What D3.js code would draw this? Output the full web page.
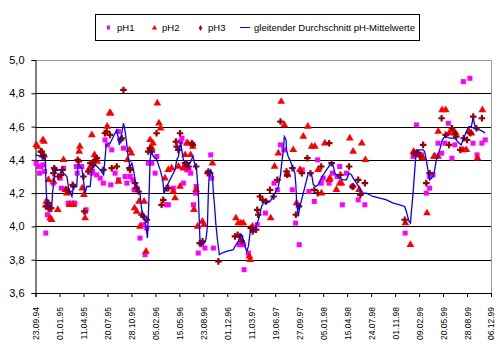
<!DOCTYPE html>
<html><head><meta charset="utf-8">
<script src="https://cdn.jsdelivr.net/npm/d3@7"></script>
<style>body{margin:0;background:#fff}svg{display:block}text{font-family:"Liberation Sans",Arial,sans-serif}</style>
</head><body><svg id="c" width="504" height="350"></svg>
<script>
// day offsets from 23.09.1994, pH values
const startDate = "1994-09-23";
const xTickDays = [0,100,200,300,400,500,600,700,800,900,1000,1100,1200,1300,1400,1500,1600,1700,1800,1900];
const yTicks = [3.6,3.8,4.0,4.2,4.4,4.6,4.8,5.0];
const seriesNames = ["pH1","pH2","pH3","gleitender Durchschnitt pH-Mittelwerte"];

const pH1 = [[3,4.38],[12,4.36],[17,4.32],[22,4.36],[31,4.37],[38,4.33],[43,3.96],[50,4.07],[60,4.10],[74,4.26],[103,4.29],[108,4.23],[117,4.35],[136,4.14],[154,4.14],[164,4.14],[170,4.36],[174,4.32],[188,4.36],[193,4.36],[208,4.09],[211,4.10],[235,4.32],[238,4.33],[255,4.31],[270,4.29],[283,4.26],[290,4.52],[300,4.49],[314,4.25],[318,4.46],[332,4.32],[346,4.57],[346,4.28],[367,4.47],[374,4.30],[381,4.26],[395,4.30],[406,4.28],[411,4.22],[422,4.23],[436,3.93],[447,4.01],[457,3.83],[464,3.99],[471,4.38],[485,4.38],[499,4.32],[506,4.42],[547,4.13],[554,4.13],[575,4.23],[606,4.51],[611,4.53],[617,4.26],[631,4.34],[640,4.34],[647,4.32],[659,4.13],[668,4.20],[670,4.24],[679,3.84],[693,3.89],[707,3.87],[731,4.43],[735,4.29],[742,3.87],[850,3.89],[868,3.89],[870,3.74],[888,3.84],[915,3.99],[925,4.01],[959,4.08],[995,4.26],[1009,4.22],[1022,4.49],[1036,4.46],[1050,4.32],[1071,4.22],[1085,4.02],[1100,3.89],[1113,4.34],[1141,4.21],[1163,4.15],[1177,4.40],[1192,4.26],[1200,4.29],[1225,4.26],[1239,4.32],[1258,4.30],[1269,4.36],[1280,4.13],[1297,4.32],[1322,4.24],[1346,4.16],[1374,4.13],[1542,3.96],[1575,4.42],[1589,4.61],[1610,4.43],[1630,4.20],[1644,4.23],[1644,4.30],[1658,4.31],[1679,4.50],[1694,4.44],[1708,4.50],[1722,4.62],[1737,4.41],[1749,4.49],[1785,4.87],[1786,4.46],[1812,4.89],[1825,4.50],[1842,4.43],[1862,4.50],[1876,4.52]];

const pH2 = [[3,4.49],[8,4.48],[31,4.52],[35,4.51],[45,4.15],[52,4.14],[54,4.28],[61,4.05],[67,4.04],[75,4.27],[93,4.10],[117,4.40],[125,4.22],[131,4.20],[142,4.13],[158,4.13],[182,4.45],[185,4.48],[195,4.23],[202,4.19],[207,4.05],[225,4.35],[235,4.55],[240,4.38],[246,4.43],[257,4.39],[299,4.60],[309,4.68],[313,4.68],[346,4.27],[384,4.40],[392,4.46],[400,4.44],[413,4.11],[422,4.09],[432,4.15],[436,4.00],[453,4.15],[461,3.85],[478,4.52],[485,4.47],[490,4.50],[508,4.74],[515,4.62],[522,4.59],[540,4.29],[554,4.34],[568,4.35],[575,4.21],[582,4.17],[596,4.36],[603,4.24],[617,4.35],[620,4.36],[624,4.43],[631,4.50],[635,4.50],[647,4.43],[656,4.48],[661,4.10],[670,4.22],[676,4.00],[696,4.03],[703,4.01],[738,4.38],[836,4.05],[846,4.02],[857,4.02],[867,4.02],[892,3.82],[895,3.80],[905,4.00],[981,4.05],[997,4.36],[1013,4.44],[1025,4.75],[1038,4.61],[1052,4.31],[1075,4.46],[1089,4.14],[1103,4.34],[1117,4.54],[1136,4.60],[1152,4.48],[1165,4.48],[1179,4.34],[1193,4.20],[1207,4.50],[1225,4.28],[1228,4.29],[1255,4.22],[1269,4.26],[1276,4.26],[1311,4.53],[1325,4.45],[1350,4.22],[1361,4.50],[1376,4.40],[1543,4.02],[1564,3.89],[1577,4.45],[1582,4.44],[1592,4.43],[1603,4.43],[1617,4.41],[1633,4.08],[1662,4.42],[1666,4.42],[1679,4.42],[1680,4.57],[1696,4.70],[1711,4.70],[1725,4.56],[1739,4.58],[1752,4.56],[1783,4.46],[1797,4.46],[1808,4.57],[1818,4.56],[1844,4.41],[1864,4.70]];

const pH3 = [[22,4.45],[26,4.45],[29,4.42],[33,4.43],[36,4.42],[43,4.12],[47,4.12],[54,4.14],[56,4.11],[65,4.11],[75,4.32],[78,4.35],[82,4.34],[95,4.30],[106,4.31],[113,4.34],[130,4.22],[138,4.21],[155,4.25],[158,4.24],[176,4.40],[180,4.39],[200,4.30],[204,4.09],[220,4.33],[229,4.38],[237,4.37],[249,4.40],[256,4.41],[283,4.34],[290,4.56],[297,4.57],[311,4.55],[318,4.35],[339,4.36],[355,4.52],[360,4.53],[367,4.82],[392,4.35],[395,4.34],[415,4.26],[422,4.23],[430,4.21],[443,4.07],[450,4.06],[464,4.04],[470,4.45],[477,4.47],[485,4.45],[505,4.56],[526,4.13],[533,4.16],[547,4.23],[554,4.23],[586,4.51],[589,4.48],[596,4.46],[603,4.56],[624,4.38],[631,4.38],[638,4.36],[652,4.50],[656,4.49],[670,4.36],[685,3.90],[690,3.90],[697,3.91],[718,4.32],[721,4.33],[728,4.32],[763,3.79],[832,3.94],[843,3.95],[853,3.94],[860,3.91],[898,3.99],[906,3.97],[920,3.98],[925,4.10],[929,4.07],[936,4.18],[947,4.16],[962,4.15],[978,4.22],[993,4.18],[1009,4.28],[1022,4.63],[1047,4.33],[1050,4.31],[1072,4.35],[1086,4.07],[1099,4.12],[1111,4.32],[1134,4.41],[1147,4.32],[1163,4.22],[1177,4.20],[1192,4.36],[1225,4.50],[1235,4.38],[1272,4.31],[1308,4.36],[1322,4.24],[1325,4.24],[1346,4.28],[1355,4.19],[1374,4.26],[1540,4.04],[1580,4.44],[1596,4.44],[1603,4.42],[1617,4.49],[1630,4.26],[1644,4.32],[1694,4.65],[1711,4.55],[1725,4.49],[1737,4.59],[1750,4.56],[1755,4.54],[1772,4.46],[1786,4.53],[1800,4.52],[1814,4.56],[1826,4.66],[1839,4.59],[1862,4.65]];

const avgLine = [[0,4.43],[28,4.42],[41,4.41],[45,4.20],[50,4.12],[68,4.12],[71,4.20],[82,4.34],[103,4.34],[117,4.32],[131,4.30],[138,4.23],[152,4.18],[159,4.24],[172,4.24],[177,4.37],[193,4.35],[207,4.20],[214,4.24],[228,4.24],[235,4.34],[249,4.37],[270,4.34],[284,4.31],[295,4.49],[311,4.50],[325,4.54],[339,4.58],[350,4.49],[360,4.56],[367,4.62],[374,4.57],[381,4.49],[388,4.40],[395,4.36],[402,4.38],[409,4.34],[415,4.28],[422,4.24],[436,4.20],[443,4.10],[453,4.06],[461,4.00],[467,3.93],[474,4.20],[478,4.40],[482,4.45],[492,4.42],[506,4.40],[520,4.34],[531,4.28],[536,4.20],[547,4.24],[561,4.28],[568,4.30],[582,4.34],[589,4.40],[596,4.42],[606,4.51],[610,4.46],[617,4.40],[624,4.38],[631,4.36],[645,4.38],[656,4.42],[661,4.40],[666,4.36],[672,4.34],[679,4.20],[684,4.00],[686,3.92],[693,3.89],[703,3.90],[711,3.92],[717,4.00],[721,4.20],[725,4.33],[731,4.34],[738,4.31],[742,4.20],[746,4.14],[752,4.02],[759,3.92],[767,3.83],[777,3.84],[797,3.85],[825,3.86],[832,3.88],[846,3.91],[853,3.94],[860,3.95],[867,3.92],[874,3.88],[881,3.85],[888,3.88],[895,3.96],[906,3.98],[916,3.99],[925,4.02],[934,4.06],[943,4.12],[950,4.14],[964,4.14],[978,4.15],[992,4.18],[999,4.20],[1013,4.24],[1022,4.31],[1027,4.38],[1034,4.46],[1038,4.54],[1045,4.52],[1047,4.46],[1054,4.42],[1061,4.40],[1072,4.36],[1082,4.32],[1086,4.25],[1089,4.15],[1096,4.06],[1103,4.12],[1110,4.16],[1117,4.20],[1131,4.28],[1138,4.32],[1147,4.32],[1152,4.31],[1159,4.25],[1170,4.24],[1179,4.25],[1189,4.28],[1200,4.31],[1214,4.34],[1228,4.37],[1239,4.38],[1249,4.32],[1255,4.31],[1262,4.30],[1269,4.29],[1283,4.28],[1297,4.28],[1308,4.32],[1318,4.31],[1325,4.29],[1339,4.26],[1353,4.23],[1364,4.20],[1380,4.20],[1408,4.18],[1436,4.17],[1464,4.16],[1492,4.14],[1519,4.13],[1540,4.12],[1547,4.09],[1554,4.05],[1558,4.03],[1564,4.02],[1568,4.09],[1575,4.20],[1582,4.34],[1589,4.46],[1603,4.46],[1617,4.46],[1623,4.45],[1630,4.40],[1637,4.34],[1644,4.28],[1651,4.29],[1658,4.30],[1665,4.34],[1672,4.40],[1686,4.46],[1697,4.52],[1707,4.54],[1714,4.54],[1728,4.53],[1749,4.53],[1755,4.52],[1767,4.50],[1776,4.49],[1783,4.52],[1797,4.57],[1808,4.60],[1818,4.60],[1825,4.65],[1829,4.63],[1835,4.59],[1842,4.58],[1853,4.58],[1867,4.57],[1875,4.56]];

const svg = d3.select("#c");
const m = {l:35.5, r:491, t:60, b:293};
const t0 = new Date(startDate + "T00:00:00Z");
const toDate = d => d3.utcDay.offset(t0, d);
const x = d3.scaleUtc().domain([toDate(0), toDate(1900)]).range([m.l, m.r]);
const y = d3.scaleLinear().domain([3.6, 5.0]).range([m.b, m.t]);

// gridlines
svg.append("g").selectAll("line").data(yTicks.filter(v => v > 3.6 && v < 5.0)).join("line")
  .attr("x1", m.l).attr("x2", m.r).attr("y1", d => Math.round(y(d))+0.5).attr("y2", d => Math.round(y(d))+0.5)
  .attr("stroke", "#000").attr("stroke-width", 1);
// plot border top/right
svg.append("path").attr("d", `M${m.l},${m.t+0.5}H${m.r+0.5}V${m.b}`).attr("fill","none").attr("stroke","#999").attr("stroke-width",1);

// y axis
const yAxis = d3.axisLeft(y).tickValues(yTicks).tickSize(4).tickPadding(7)
  .tickFormat(d => d3.format(".1f")(d).replace(".", ","));
const gy = svg.append("g").attr("transform", `translate(${m.l},0)`).call(yAxis);
gy.select(".domain").attr("stroke","#000");
gy.selectAll("text").attr("font-size", 11).attr("fill","#000");

// x axis
const fmt = d3.utcFormat("%d.%m.%y");
const xAxis = d3.axisBottom(x).tickValues(xTickDays.map(toDate)).tickSize(4).tickFormat(fmt);
const gx = svg.append("g").attr("transform", `translate(0,${m.b})`).call(xAxis);
gx.select(".domain").attr("stroke","#000");
gx.selectAll("text").attr("font-size", 8.5).attr("fill","#000")
  .attr("transform","rotate(-90)").attr("text-anchor","end")
  .attr("x", -14).attr("y", 0).attr("dy","0.35em");

// markers
const sq = svg.append("g");
sq.selectAll("rect").data(pH1).join("rect")
  .attr("x", d => x(toDate(d[0])) - 2.5).attr("y", d => y(d[1]) - 2.5)
  .attr("width", 5).attr("height", 5).attr("fill", "#FF00FF");
const tri = d3.symbol().type(d3.symbolTriangle).size(26);
svg.append("g").selectAll("path").data(pH2).join("path")
  .attr("d", tri).attr("transform", d => `translate(${x(toDate(d[0]))},${y(d[1])})`).attr("fill", "#FF0000");
const dia = d3.symbol().type(d3.symbolCross).size(24);
svg.append("g").selectAll("path").data(pH3).join("path")
  .attr("d", dia).attr("transform", d => `translate(${x(toDate(d[0]))},${y(d[1])})`).attr("fill", "#990000");

// moving average line
const line = d3.line().x(d => x(toDate(d[0]))).y(d => y(d[1]));
svg.append("path").datum(avgLine).attr("d", line).attr("fill","none").attr("stroke","#0000FF").attr("stroke-width",1.3);

// legend
const lg = svg.append("g");
lg.append("rect").attr("x",95.5).attr("y",14.5).attr("width",324).attr("height",26).attr("fill","#fff").attr("stroke","#000");
lg.append("rect").attr("x",107).attr("y",25.5).attr("width",3).attr("height",4).attr("fill","#FF00FF");
lg.append("path").attr("d", d3.symbol().type(d3.symbolTriangle).size(12)).attr("transform","translate(154.5,28)").attr("fill","#FF0000");
lg.append("path").attr("d", d3.symbol().type(d3.symbolDiamond).size(10)).attr("transform","translate(200.5,28)").attr("fill","#990000");
lg.append("line").attr("x1",240).attr("x2",250).attr("y1",27.5).attr("y2",27.5).attr("stroke","#0000FF").attr("stroke-width",1);
const lx = [117, 162, 208, 254];
lg.selectAll("text").data(seriesNames).join("text")
  .attr("x", (d,i) => lx[i]).attr("y", 31).attr("font-size", 9.5).attr("fill","#000").text(d => d);
</script></body></html>
